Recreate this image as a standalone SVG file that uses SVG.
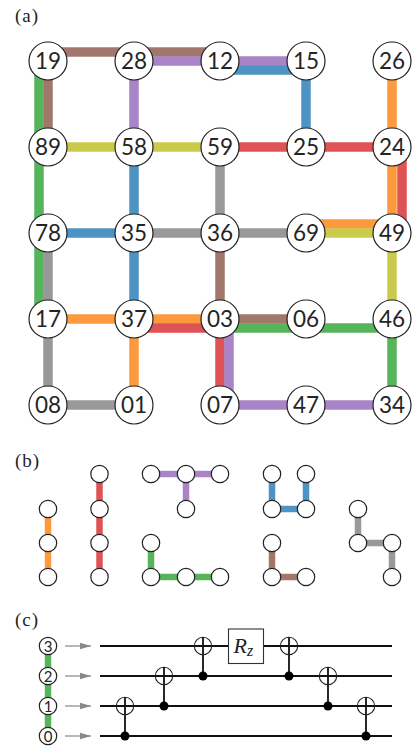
<svg xmlns="http://www.w3.org/2000/svg" width="413" height="747" viewBox="0 0 413 747">
<style>
.e{fill:none;stroke-width:9.5;stroke-linejoin:miter;stroke-linecap:butt}
.s{fill:none;stroke-width:6.5;stroke-linecap:butt}
.br{stroke:#a1776c}.gr{stroke:#56b45a}.pu{stroke:#a985c8}.or{stroke:#fe9a3e}.re{stroke:#df5356}.bl{stroke:#4d93c3}.ga{stroke:#999999}.ol{stroke:#cacb4b}
.n circle{fill:#fff;stroke:#222;stroke-width:1.2}
.n text{font-family:"Lato","Open Sans",sans-serif;font-size:22.5px;font-weight:400;fill:#222;text-anchor:middle;opacity:.99}
.m circle{fill:#fff;stroke:#222;stroke-width:1.2}
.m text{font-family:"Lato","Open Sans",sans-serif;font-size:15px;font-weight:400;fill:#222;text-anchor:middle;opacity:.99}
.l{font-family:"Liberation Serif",serif;font-size:19px;letter-spacing:1px;fill:#222;opacity:.99}
.w{stroke:#111;stroke-width:1.8;fill:none}
.t{fill:none;stroke:#222;stroke-width:1.1}
.a{stroke:#888;stroke-width:1.2;fill:none}
</style>
<defs>
<marker id="ah" markerUnits="userSpaceOnUse" markerWidth="12" markerHeight="8" refX="11" refY="4" orient="auto"><path d="M0 0.8L11 4L0 7.2Z" fill="#888"/></marker>
</defs>
<text class="l" x="15" y="22">(a)</text>
<text class="l" x="15" y="467">(b)</text>
<text class="l" x="15" y="626">(c)</text>
<g id="connectors">
<path class="e br" d="M48 147V52H220"/>
<path class="e pu" d="M134 147V61H306"/>
<path class="e bl" d="M220 70H306V147"/>
<path class="e gr" d="M39 61V319"/>
<path class="e ol" d="M48 147H220"/>
<path class="e re" d="M220 147H392"/>
<path class="e or" d="M392 61V224H306"/>
<path class="e re" d="M392 147H402V233"/>
<path class="e ol" d="M306 233H392V319"/>
<path class="e bl" d="M134 147V319"/>
<path class="e bl" d="M48 233H134"/>
<path class="e ga" d="M220 147V233H134M220 233H306"/>
<path class="e ga" d="M48 233V405H134"/>
<path class="e or" d="M48 319H220M134 319V405"/>
<path class="e re" d="M134 328H220V405"/>
<path class="e br" d="M220 233V319H306"/>
<path class="e gr" d="M220 328H392V405"/>
<path class="e pu" d="M229 319V405H392"/>
<path class="s or" d="M48 509V577"/>
<path class="s re" d="M99.500 474V577"/>
<path class="s pu" d="M151 474H220M186 474V509"/>
<path class="s gr" d="M151 543V577H220"/>
<path class="s bl" d="M272 474V509H306V474"/>
<path class="s br" d="M272 543V577H306"/>
<path class="s ga" d="M358 509V543H392V577"/>
<path class="s gr" d="M48 646V736"/>
<path class="a" marker-end="url(#ah)" d="M65 646H91"/>
<path class="a" marker-end="url(#ah)" d="M65 676H91"/>
<path class="a" marker-end="url(#ah)" d="M65 706H91"/>
<path class="a" marker-end="url(#ah)" d="M65 736H91"/>
<path class="w" d="M100 646H392M100 676H392M100 706H392M100 736H392"/>
<path class="w" d="M125 697V736M164 667V706M203 637V676M289 637V676M328 667V706M366 697V736"/>
</g>
<g id="grid" class="n">
<g id="n19"><circle cx="48" cy="61" r="19"/><text x="48" y="69">19</text></g>
<g id="n28"><circle cx="134" cy="61" r="19"/><text x="134" y="69">28</text></g>
<g id="n12"><circle cx="220" cy="61" r="19"/><text x="220" y="69">12</text></g>
<g id="n15"><circle cx="306" cy="61" r="19"/><text x="306" y="69">15</text></g>
<g id="n26"><circle cx="392" cy="61" r="19"/><text x="392" y="69">26</text></g>
<g id="n89"><circle cx="48" cy="147" r="19"/><text x="48" y="155">89</text></g>
<g id="n58"><circle cx="134" cy="147" r="19"/><text x="134" y="155">58</text></g>
<g id="n59"><circle cx="220" cy="147" r="19"/><text x="220" y="155">59</text></g>
<g id="n25"><circle cx="306" cy="147" r="19"/><text x="306" y="155">25</text></g>
<g id="n24"><circle cx="392" cy="147" r="19"/><text x="392" y="155">24</text></g>
<g id="n78"><circle cx="48" cy="233" r="19"/><text x="48" y="241">78</text></g>
<g id="n35"><circle cx="134" cy="233" r="19"/><text x="134" y="241">35</text></g>
<g id="n36"><circle cx="220" cy="233" r="19"/><text x="220" y="241">36</text></g>
<g id="n69"><circle cx="306" cy="233" r="19"/><text x="306" y="241">69</text></g>
<g id="n49"><circle cx="392" cy="233" r="19"/><text x="392" y="241">49</text></g>
<g id="n17"><circle cx="48" cy="319" r="19"/><text x="48" y="327">17</text></g>
<g id="n37"><circle cx="134" cy="319" r="19"/><text x="134" y="327">37</text></g>
<g id="n03"><circle cx="220" cy="319" r="19"/><text x="220" y="327">03</text></g>
<g id="n06"><circle cx="306" cy="319" r="19"/><text x="306" y="327">06</text></g>
<g id="n46"><circle cx="392" cy="319" r="19"/><text x="392" y="327">46</text></g>
<g id="n08"><circle cx="48" cy="405" r="19"/><text x="48" y="413">08</text></g>
<g id="n01"><circle cx="134" cy="405" r="19"/><text x="134" y="413">01</text></g>
<g id="n07"><circle cx="220" cy="405" r="19"/><text x="220" y="413">07</text></g>
<g id="n47"><circle cx="306" cy="405" r="19"/><text x="306" y="413">47</text></g>
<g id="n34"><circle cx="392" cy="405" r="19"/><text x="392" y="413">34</text></g>
</g>
<g id="subgraphs" class="m">
<circle cx="48" cy="509" r="8.700"/><circle cx="48" cy="543" r="8.700"/><circle cx="48" cy="577" r="8.700"/>
<circle cx="99.500" cy="474" r="8.700"/><circle cx="99.500" cy="509" r="8.700"/><circle cx="99.500" cy="543" r="8.700"/><circle cx="99.500" cy="577" r="8.700"/>
<circle cx="151" cy="474" r="8.700"/><circle cx="186" cy="474" r="8.700"/><circle cx="220" cy="474" r="8.700"/><circle cx="186" cy="509" r="8.700"/>
<circle cx="151" cy="543" r="8.700"/><circle cx="151" cy="577" r="8.700"/><circle cx="186" cy="577" r="8.700"/><circle cx="220" cy="577" r="8.700"/>
<circle cx="272" cy="474" r="8.700"/><circle cx="272" cy="509" r="8.700"/><circle cx="306" cy="509" r="8.700"/><circle cx="306" cy="474" r="8.700"/>
<circle cx="272" cy="543" r="8.700"/><circle cx="272" cy="577" r="8.700"/><circle cx="306" cy="577" r="8.700"/>
<circle cx="358" cy="509" r="8.700"/><circle cx="358" cy="543" r="8.700"/><circle cx="392" cy="543" r="8.700"/><circle cx="392" cy="577" r="8.700"/>
</g>
<g id="qubits" class="m">
<g id="q3"><circle cx="48" cy="646" r="8.700"/><text x="48" y="651.500">3</text></g>
<g id="q2"><circle cx="48" cy="676" r="8.700"/><text x="48" y="681.500">2</text></g>
<g id="q1"><circle cx="48" cy="706" r="8.700"/><text x="48" y="711.500">1</text></g>
<g id="q0"><circle cx="48" cy="736" r="8.700"/><text x="48" y="741.500">0</text></g>
</g>
<g id="circuit">
<circle class="t" cx="125" cy="706" r="8.700"/><circle cx="125" cy="736" r="4.500"/>
<circle class="t" cx="164" cy="676" r="8.700"/><circle cx="164" cy="706" r="4.500"/>
<circle class="t" cx="203" cy="646" r="8.700"/><circle cx="203" cy="676" r="4.500"/>
<circle class="t" cx="289" cy="646" r="8.700"/><circle cx="289" cy="676" r="4.500"/>
<circle class="t" cx="328" cy="676" r="8.700"/><circle cx="328" cy="706" r="4.500"/>
<circle class="t" cx="366" cy="706" r="8.700"/><circle cx="366" cy="736" r="4.500"/>
<g id="rz"><rect x="228.500" y="629" width="35" height="34.500" fill="#fff" stroke="#333" stroke-width="1.100"/>
<text x="233.500" y="653" font-family="Liberation Serif, serif" font-style="italic" font-size="22" fill="#222" opacity=".99">R<tspan font-size="16" dy="3">z</tspan></text></g>
</g>
</svg>
